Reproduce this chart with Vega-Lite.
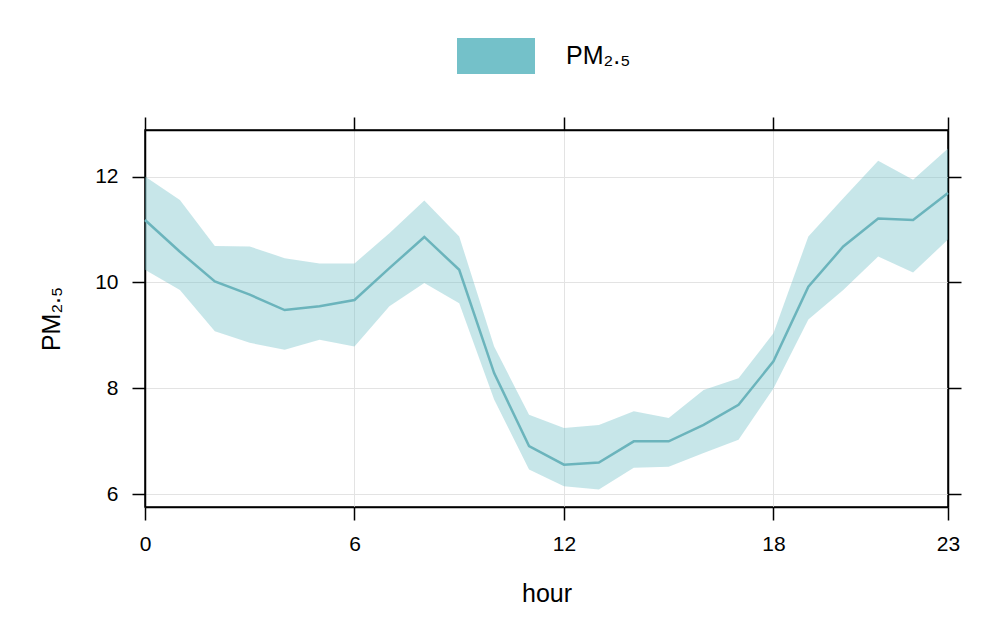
{
  "$schema": "https://vega.github.io/schema/vega-lite/v6.json",
  "width": 803,
  "height": 377,
  "autosize": "none",
  "padding": {"left": 145, "top": 130, "right": 57, "bottom": 131},
  "background": "white",
  "config": {
    "font": "Liberation Sans",
    "view": {"stroke": "black", "strokeWidth": 1.5},
    "axis": {"domainColor": "black", "domainWidth": 1.5, "tickColor": "black", "tickWidth": 1.5, "labelColor": "black", "titleColor": "black", "titleFontWeight": "normal", "gridColor": "#e3e3e3", "gridWidth": 1}
  },
  "data": {
    "values": [
      {"hour": 0, "mean": 11.18, "lower": 10.24, "upper": 12.0},
      {"hour": 1, "mean": 10.58, "lower": 9.86, "upper": 11.56},
      {"hour": 2, "mean": 10.02, "lower": 9.08, "upper": 10.69},
      {"hour": 3, "mean": 9.77, "lower": 8.86, "upper": 10.68},
      {"hour": 4, "mean": 9.48, "lower": 8.73, "upper": 10.46},
      {"hour": 5, "mean": 9.55, "lower": 8.92, "upper": 10.36},
      {"hour": 6, "mean": 9.67, "lower": 8.79, "upper": 10.36},
      {"hour": 7, "mean": 10.27, "lower": 9.55, "upper": 10.93},
      {"hour": 8, "mean": 10.86, "lower": 9.99, "upper": 11.55},
      {"hour": 9, "mean": 10.24, "lower": 9.61, "upper": 10.87},
      {"hour": 10, "mean": 8.29, "lower": 7.79, "upper": 8.79},
      {"hour": 11, "mean": 6.91, "lower": 6.47, "upper": 7.5},
      {"hour": 12, "mean": 6.56, "lower": 6.15, "upper": 7.25},
      {"hour": 13, "mean": 6.6, "lower": 6.09, "upper": 7.31},
      {"hour": 14, "mean": 7.0, "lower": 6.5, "upper": 7.57},
      {"hour": 15, "mean": 7.0, "lower": 6.52, "upper": 7.44},
      {"hour": 16, "mean": 7.31, "lower": 6.78, "upper": 7.97},
      {"hour": 17, "mean": 7.69, "lower": 7.03, "upper": 8.19},
      {"hour": 18, "mean": 8.51, "lower": 8.0, "upper": 9.04},
      {"hour": 19, "mean": 9.92, "lower": 9.3, "upper": 10.87},
      {"hour": 20, "mean": 10.68, "lower": 9.86, "upper": 11.59},
      {"hour": 21, "mean": 11.21, "lower": 10.49, "upper": 12.3},
      {"hour": 22, "mean": 11.18, "lower": 10.19, "upper": 11.94},
      {"hour": 23, "mean": 11.69, "lower": 10.81, "upper": 12.53}
    ]
  },
  "resolve": {"axis": {"x": "independent", "y": "independent"}},
  "layer": [
    {
      "mark": {"type": "area", "opacity": 0.4},
      "encoding": {
        "x": {"field": "hour", "type": "quantitative", "scale": {"domain": [0, 23], "nice": false, "zero": false},
          "axis": {"orient": "bottom", "values": [0, 6, 12, 18, 23], "grid": true, "tickSize": 13, "labelFontSize": 21, "labelPadding": 13, "labelFlush": false, "title": "hour", "titleFontSize": 25, "titlePadding": 27}},
        "y": {"field": "lower", "type": "quantitative", "scale": {"domain": [5.76, 12.88], "nice": false, "zero": false},
          "axis": {"orient": "left", "values": [6, 8, 10, 12], "grid": true, "tickSize": 13, "labelFontSize": 21, "labelPadding": 14, "labelFlush": false, "title": "PM₂.₅", "titleFontSize": 25, "titlePadding": 30}},
        "y2": {"field": "upper"},
        "color": {"datum": "PM₂.₅", "type": "nominal", "scale": {"range": ["#74c1c9"]},
          "legend": {"title": null, "orient": "none", "legendX": 312, "legendY": -113, "padding": 0, "symbolType": "M-1,-0.46H1V0.46H-1Z", "symbolSize": 6084, "symbolOpacity": 1, "symbolStrokeWidth": 0, "labelFontSize": 25, "labelOffset": 31, "labelColor": "black"}}
      }
    },
    {
      "mark": {"type": "line", "color": "#6bb4bc", "strokeWidth": 2.5},
      "encoding": {
        "x": {"field": "hour", "type": "quantitative",
          "axis": {"orient": "top", "values": [0, 6, 12, 18, 23], "grid": false, "labels": false, "tickSize": 13, "title": null}},
        "y": {"field": "mean", "type": "quantitative",
          "axis": {"orient": "right", "values": [6, 8, 10, 12], "grid": false, "labels": false, "tickSize": 13, "title": null}}
      }
    }
  ]
}
